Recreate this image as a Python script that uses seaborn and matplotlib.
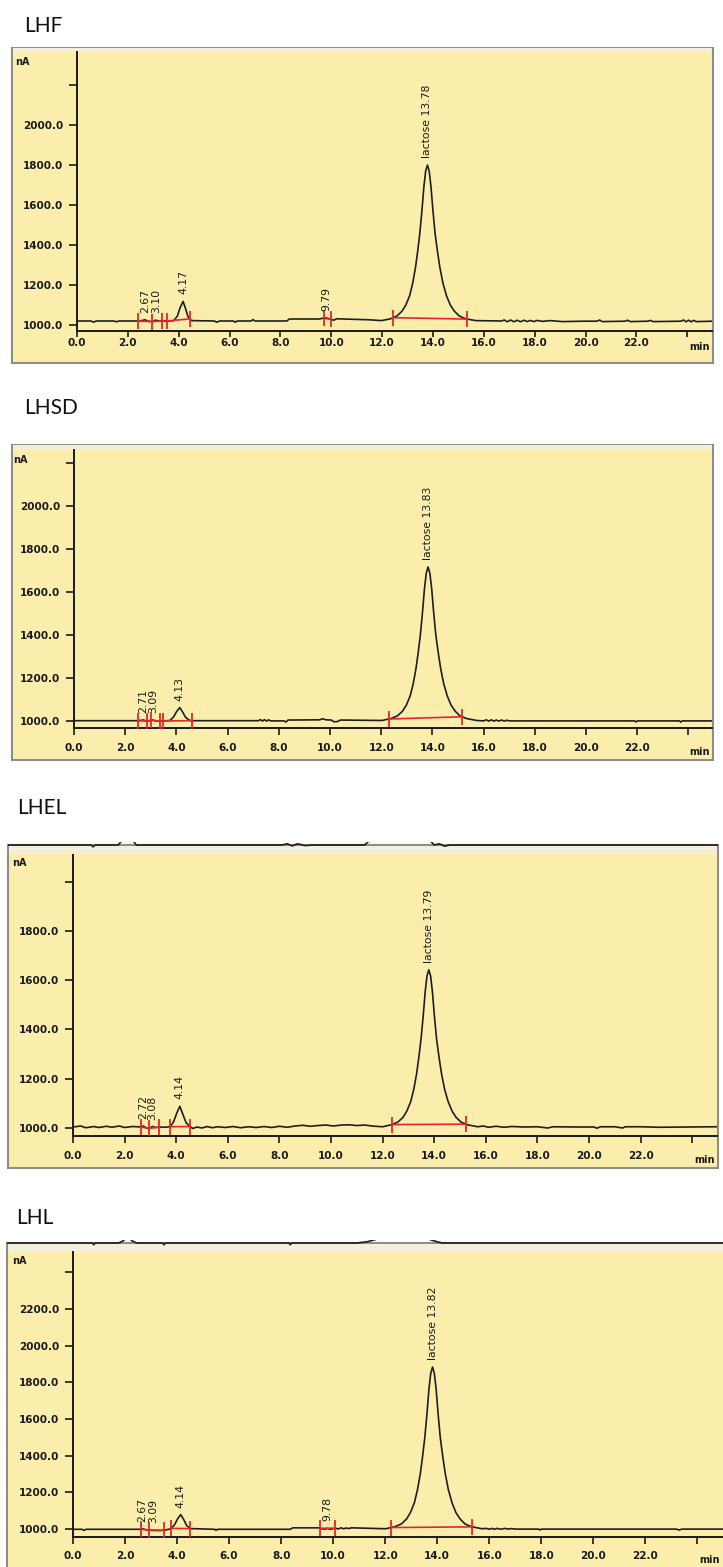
import numpy as np
import matplotlib
matplotlib.use("Agg")
import matplotlib.pyplot as plt
from matplotlib.patches import Rectangle
import seaborn as sns

# Chromatogram traces (time in min, detector signal in nA)
lhf_t = [0.0, 0.55, 0.65, 0.75, 1.45, 1.55, 1.65, 2.40, 2.55, 2.67, 2.80, 2.95, 3.10, 3.25, 3.45,
         3.80, 3.95, 4.05, 4.17, 4.27, 4.36, 4.50, 5.40, 5.50, 5.60, 6.15, 6.22, 6.30, 6.85, 6.92, 7.00,
         8.25, 8.35, 9.50, 9.60, 9.79, 9.95, 10.10, 10.20, 11.50,
         11.98, 12.33, 12.58, 12.78, 12.93, 13.08, 13.20, 13.31, 13.40, 13.48, 13.56, 13.64, 13.71,
         13.78, 13.85, 13.92, 14.00, 14.08, 14.17, 14.27, 14.39, 14.53, 14.68, 14.84, 15.03, 15.28,
         15.68, 16.70,
         16.80, 16.92, 17.05, 17.18, 17.31, 17.44, 17.57, 17.70, 17.83, 17.96, 18.10, 18.30, 18.60,
         19.10, 19.90, 20.45, 20.55, 20.65, 21.55, 21.65, 21.75, 22.45, 22.55, 22.65,
         23.75, 23.85, 23.95, 24.05, 24.15, 24.25, 24.35, 24.97]
lhf_nA = [1020, 1020, 1014, 1020, 1020, 1016, 1020, 1020, 1022, 1026, 1019, 1017, 1024, 1019, 1020,
          1021, 1045, 1085, 1118, 1082, 1042, 1022, 1020, 1014, 1020, 1020, 1014, 1020, 1020, 1027, 1020,
          1020, 1030, 1030, 1032, 1036, 1029, 1024, 1031, 1026,
          1022, 1031, 1045, 1069, 1100, 1146, 1209, 1287, 1372, 1458, 1567, 1691, 1769,
          1800, 1769, 1691, 1567, 1458, 1372, 1287, 1209, 1146, 1100, 1069, 1045, 1031,
          1022, 1020,
          1025, 1016, 1025, 1016, 1024, 1016, 1024, 1017, 1023, 1017, 1023, 1018, 1022,
          1017, 1019, 1019, 1025, 1017, 1019, 1024, 1017, 1019, 1023, 1017,
          1019, 1025, 1016, 1024, 1016, 1023, 1017, 1019]
lhf_labels = ["2.67", "3.10", "4.17", "9.79", "lactose 13.78"]
lhf_label_t = [2.67, 3.10, 4.17, 9.79, 13.78]
lhf_marks = [[2.40, 2.95, 3.34, 3.54, 4.44], [9.71, 9.99], [12.43, 15.34]]
lhf_yticks = [1000, 1200, 1400, 1600, 1800, 2000, 2200]

lhsd_t = [0.0, 2.50, 2.71, 2.85, 3.00, 3.09, 3.20, 3.48, 3.75, 3.90, 4.00, 4.13, 4.25, 4.35, 4.50, 4.61,
          7.20, 7.28, 7.36, 7.44, 7.52, 7.60, 7.68, 8.20, 8.28, 8.36,
          9.60, 9.70, 9.85, 10.05, 10.15, 10.30, 10.40,
          12.03, 12.38, 12.63, 12.83, 12.98, 13.13, 13.25, 13.36, 13.45, 13.53, 13.61, 13.69, 13.76,
          13.83, 13.90, 13.97, 14.05, 14.13, 14.22, 14.32, 14.44, 14.58, 14.73, 14.89, 15.08, 15.33,
          15.73,
          16.00, 16.10, 16.20, 16.30, 16.40, 16.50, 16.60, 16.70, 16.80, 16.90, 17.00,
          21.90, 21.95, 22.00, 23.65, 23.70, 23.75, 24.92]
lhsd_nA = [1001, 1001, 1004, 999, 1002, 1004, 1000, 1000, 1002, 1020, 1042, 1062, 1040, 1018, 1003, 1001,
           1001, 1006, 999, 1006, 999, 1005, 1000, 1000, 995, 1004,
           1005, 1010, 1005, 1004, 996, 997, 1004,
           1002, 1011, 1023, 1045, 1073, 1116, 1173, 1245, 1323, 1402, 1502, 1616, 1687,
           1716, 1687, 1616, 1502, 1402, 1323, 1245, 1173, 1116, 1073, 1045, 1023, 1011,
           1002,
           1000, 1005, 999, 1005, 999, 1004, 999, 1004, 999, 1003, 1000,
           1000, 995, 1000, 1000, 994, 1000, 1000]
lhsd_labels = ["2.71", "3.09", "4.13", "lactose 13.83"]
lhsd_label_t = [2.71, 3.09, 4.13, 13.83]
lhsd_marks = [[2.50, 2.85, 3.00, 3.36, 3.48, 4.61], [12.30, 15.16]]
lhsd_yticks = [1000, 1200, 1400, 1600, 1800, 2000, 2200]

lhel_t = [0.0, 0.3, 0.5, 0.8, 1.0, 1.3, 1.5, 1.8, 2.0, 2.3,
          2.64, 2.72, 2.85, 2.95, 3.08, 3.20, 3.33, 3.55,
          3.76, 3.90, 4.02, 4.14, 4.26, 4.38, 4.53,
          4.65, 4.80, 5.00, 5.20, 5.40, 5.60, 5.90, 6.20, 6.50, 6.80, 7.10, 7.40, 7.70, 8.00, 8.30,
          8.60, 8.90, 9.20, 9.50, 9.80, 10.10, 10.40, 10.70, 11.00, 11.30, 11.60,
          11.99, 12.34, 12.59, 12.79, 12.94, 13.09, 13.21, 13.32, 13.41, 13.49, 13.57, 13.65, 13.72,
          13.79, 13.86, 13.93, 14.01, 14.09, 14.18, 14.28, 14.40, 14.54, 14.69, 14.85, 15.04, 15.29,
          15.69,
          15.90, 16.10, 16.40, 16.70, 17.00, 17.50, 18.00, 18.40, 18.60, 19.50, 20.20, 20.30, 20.45,
          21.00, 21.30, 21.40, 22.00, 22.70, 24.96]
lhel_nA = [1004, 1008, 1001, 1006, 1002, 1007, 1003, 1008, 1002, 1006,
           1004, 1008, 1000, 998, 1006, 1002, 1004, 1003,
           1005, 1025, 1060, 1088, 1055, 1022, 1006,
           998, 1004, 1000, 1006, 1001, 1005, 1002, 1006, 1001, 1005, 1002, 1006, 1002, 1007, 1003,
           1008, 1011, 1007, 1010, 1012, 1008, 1012, 1013, 1010, 1012, 1008,
           1005, 1013, 1024, 1043, 1069, 1107, 1158, 1222, 1292, 1362, 1451, 1553, 1617,
           1642, 1617, 1553, 1451, 1362, 1292, 1222, 1158, 1107, 1069, 1043, 1024, 1013,
           1005,
           1008, 1003, 1007, 1003, 1006, 1004, 1005, 1000, 1005, 1004, 1004, 999, 1005,
           1005, 1000, 1005, 1005, 1003, 1005]
lhel_labels = ["2.72", "3.08", "4.14", "lactose 13.79"]
lhel_label_t = [2.72, 3.08, 4.14, 13.79]
lhel_marks = [[2.64, 2.95, 3.33], [3.76, 4.53], [12.36, 15.23]]
lhel_yticks = [1000, 1200, 1400, 1600, 1800, 2000]
# bottom edge of the neighbouring window showing above the LHEL frame
lhel_above_t = [-2.6, 0.70, 0.78, 0.86, 1.75, 1.90, 2.10, 2.33, 2.45, 8.10, 8.30, 8.50, 8.70, 9.00,
                9.30, 11.30, 11.50, 12.60, 13.84, 14.00, 14.20, 14.40, 14.60, 25.2]
lhel_above_v = [0, 0, -0.6, 0, 0, 1.5, 4, 1.5, 0, 0, 0.4, -0.3, 0.4, -0.2,
                0, 0, 1.5, 4, 1.5, 0, 0.4, -0.4, 0, 0]

lhl_t = [0.0, 0.35, 0.42, 0.50, 2.62, 2.67, 2.80, 2.92, 3.09, 3.30, 3.50,
         3.75, 3.90, 4.02, 4.14, 4.26, 4.36, 4.50, 5.45, 5.50, 5.55, 8.35, 8.45,
         9.45, 9.55, 9.70, 9.78, 9.90, 10.08, 10.20, 10.30, 10.40, 10.50, 10.60, 10.70,
         12.02, 12.37, 12.62, 12.82, 12.97, 13.12, 13.24, 13.35, 13.44, 13.52, 13.60, 13.68, 13.75,
         13.82, 13.89, 13.96, 14.04, 14.12, 14.21, 14.31, 14.43, 14.57, 14.72, 14.88, 15.07, 15.32,
         15.72,
         15.90, 16.00, 16.10, 16.20, 16.30, 16.45, 16.60, 16.75, 16.85, 17.00,
         17.90, 17.95, 18.00, 23.20, 23.30, 23.40, 25.1]
lhl_nA = [998, 998, 992, 998, 998, 1001, 996, 994, 992, 991, 993,
          1000, 1022, 1055, 1078, 1050, 1020, 1002, 998, 992, 998, 998, 1006,
          1006, 1001, 999, 1003, 998, 1004, 1000, 1006, 1001, 1005, 1002, 1006,
          1001, 1012, 1027, 1054, 1089, 1142, 1213, 1301, 1398, 1495, 1618, 1760, 1848,
          1883, 1848, 1760, 1618, 1495, 1398, 1301, 1213, 1142, 1089, 1054, 1027, 1012,
          1001,
          1003, 998, 1003, 998, 1003, 998, 1003, 999, 1002, 999,
          999, 994, 999, 999, 994, 999, 999]
lhl_labels = ["2.67", "3.09", "4.14", "9.78", "lactose 13.82"]
lhl_label_t = [2.67, 3.09, 4.14, 9.78, 13.82]
lhl_marks = [[2.62, 2.92, 3.50], [3.77, 4.50], [9.50, 10.08], [12.23, 15.35]]
lhl_yticks = [1000, 1200, 1400, 1600, 1800, 2000, 2200, 2400]
lhl_above_t = [-2.6, 0.75, 0.80, 0.85, 1.75, 1.95, 2.10, 2.25, 2.45, 3.45, 3.50, 3.55, 8.30, 8.35,
               8.40, 10.90, 11.30, 11.65, 12.60, 13.70, 14.00, 14.20, 25.2]
lhl_above_v = [0, 0, -0.6, 0, 0, 0.8, 4, 0.8, 0, 0, -0.6, 0, 0, -0.6,
               0, 0, 0.4, 1.2, 4, 1.2, 0.4, 0, 0]

x_ticks = [0, 2, 4, 6, 8, 10, 12, 14, 16, 18, 20, 22, 24]

panels = [
    dict(name="LHF", t=lhf_t, nA=lhf_nA, labels=lhf_labels, label_t=lhf_label_t,
         marks=lhf_marks, yticks=lhf_yticks, above=None),
    dict(name="LHSD", t=lhsd_t, nA=lhsd_nA, labels=lhsd_labels, label_t=lhsd_label_t,
         marks=lhsd_marks, yticks=lhsd_yticks, above=None),
    dict(name="LHEL", t=lhel_t, nA=lhel_nA, labels=lhel_labels, label_t=lhel_label_t,
         marks=lhel_marks, yticks=lhel_yticks, above=(lhel_above_t, lhel_above_v)),
    dict(name="LHL", t=lhl_t, nA=lhl_nA, labels=lhl_labels, label_t=lhl_label_t,
         marks=lhl_marks, yticks=lhl_yticks, above=(lhl_above_t, lhl_above_v)),
]

# pixel layout of each scanned window: box, axes (l, t, r, b), etc.
layouts = [
    dict(title=(24, 26), box=(12, 48, 713, 363), band=(48, 52), ax=(77, 52, 712, 331),
         xmax=24.97, ylim=(970, 2365), xlen=4, xpad=1, na=(15, 62), mn=347),
    dict(title=(24, 408), box=(12, 445, 713, 760), band=(445, 450), ax=(74, 450, 712, 728),
         xmax=24.92, ylim=(967, 2260), xlen=5, xpad=6, na=(13, 460), mn=752),
    dict(title=(17, 808), box=(8, 845, 718, 1168), band=(846, 854), ax=(73, 855, 717, 1136),
         xmax=24.96, ylim=(967.5, 2108), xlen=5, xpad=6, na=(12, 863), mn=1160),
    dict(title=(16, 1218), box=(7, 1243, 726, 1600), band=(1244, 1252), ax=(73, 1252, 726, 1537),
         xmax=25.1, ylim=(956, 2510), xlen=5, xpad=5, na=(12, 1261), mn=1560),
]

W, H = 723, 1567
PANEL_BG = "#FBEEAD"
BAND = "#F3EFDA"
EDGE = "#8E8D86"
TRACE = "#1E1E1E"
RED = "#E3262A"
TXT = "#1A1A1A"

sns.set_style("ticks")
plt.rcParams["font.family"] = ["DejaVu Sans"]

fig = plt.figure(figsize=(W / 100, H / 100), dpi=100)
fig.patch.set_facecolor("white")


def fig_rect(l, t, r, b):
    return [l / W, 1 - b / H, (r - l) / W, (b - t) / H]


for p, lay in zip(panels, layouts):
    bl, bt, br, bb = lay["box"]
    fig.add_artist(Rectangle((bl / W, 1 - bb / H), (br - bl) / W, (bb - bt) / H,
                             transform=fig.transFigure, facecolor=PANEL_BG, edgecolor=EDGE,
                             linewidth=1.5, zorder=-2))
    b0, b1 = lay["band"]
    fig.add_artist(Rectangle(((bl + 1) / W, 1 - b1 / H), (br - bl - 2) / W, (b1 - b0) / H,
                             transform=fig.transFigure, facecolor=BAND, edgecolor="none",
                             zorder=-1))

    al, at, ar, ab = lay["ax"]
    ax = fig.add_axes(fig_rect(al, at, ar, ab))
    ax.set_facecolor("none")

    sns.lineplot(x=p["t"], y=p["nA"], ax=ax, color=TRACE, linewidth=1.2,
                 estimator=None, sort=False, zorder=2)

    # integration baselines and peak delimiters
    for grp in p["marks"]:
        gy = np.interp(grp, p["t"], p["nA"])
        ax.plot(grp, gy, color=RED, linewidth=1.2, marker="|", markersize=11,
                markeredgewidth=1.3, zorder=3)

    for txt, pt in zip(p["labels"], p["label_t"]):
        py = np.interp(pt, p["t"], p["nA"])
        ax.annotate(txt, (pt, py), xytext=(0, 5), textcoords="offset points", rotation=90,
                    ha="center", va="bottom", fontsize=7.8, color=TXT)

    ax.set_xlim(0, lay["xmax"])
    ax.set_ylim(*lay["ylim"])
    ax.set_xticks(x_ticks)
    ax.set_xticklabels([f"{v:.1f}" for v in x_ticks[:-1]] + [""], fontweight="bold")
    ax.set_yticks(p["yticks"])
    ax.set_yticklabels([f"{v:.1f}" for v in p["yticks"][:-1]] + [""], fontweight="bold")
    ax.tick_params(axis="x", direction="out", length=lay["xlen"], width=1.2, pad=lay["xpad"],
                   labelsize=7.5, colors=TXT)
    ax.tick_params(axis="y", direction="out", length=6, width=1.2, pad=4,
                   labelsize=7.5, colors=TXT)
    for side in ["top", "right"]:
        ax.spines[side].set_visible(False)
    for side in ["left", "bottom"]:
        ax.spines[side].set_linewidth(1.4)
        ax.spines[side].set_color(TXT)
    ax.set_xlabel("")
    ax.set_ylabel("")

    if p["above"] is not None:
        ppm = (ar - al) / lay["xmax"]
        sax = fig.add_axes(fig_rect(bl, bt - 3, br, bt + 5))
        sax.set_facecolor("none")
        sax.set_axis_off()
        sns.lineplot(x=p["above"][0], y=p["above"][1], ax=sax, color=TRACE, linewidth=1.2,
                     estimator=None, sort=False)
        sax.set_xlim((bl - al) / ppm, (br - al) / ppm)
        sax.set_ylim(-5 / 3, 1)

    tx, ty = lay["title"]
    fig.text(tx / W, 1 - ty / H, p["name"], fontsize=15, family=["Lato", "DejaVu Sans"],
             ha="left", va="center", color="#111111")
    nx, ny = lay["na"]
    fig.text(nx / W, 1 - ny / H, "nA", fontsize=7, fontweight="bold", ha="left",
             va="center", color=TXT)
    fig.text((min(br, W) - 3) / W, 1 - lay["mn"] / H, "min", fontsize=7, fontweight="bold",
             ha="right", va="center", color=TXT)

fig.savefig("out.png", dpi=100)
